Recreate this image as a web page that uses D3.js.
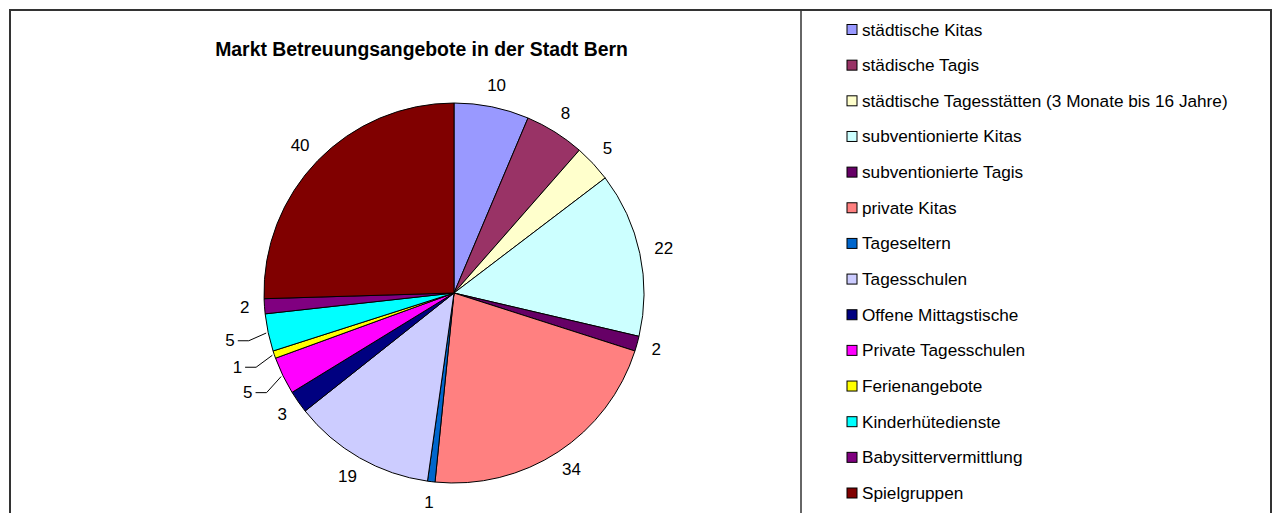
<!DOCTYPE html>
<html>
<head>
<meta charset="utf-8">
<script src="https://cdn.jsdelivr.net/npm/d3@7"></script>
<style>
  body { margin: 0; background: #fff; }
  text { font-family: "Liberation Sans", Arial, sans-serif; fill: #000; }
</style>
</head>
<body>
<svg id="chart" width="1275" height="513"></svg>
<script>
const categories = [
    "städtische Kitas", "städische Tagis", "städtische Tagesstätten (3 Monate bis 16 Jahre)",
    "subventionierte Kitas", "subventionierte Tagis", "private Kitas", "Tageseltern",
    "Tagesschulen", "Offene Mittagstische", "Private Tagesschulen", "Ferienangebote",
    "Kinderhütedienste", "Babysittervermittlung", "Spielgruppen"
];
const values = [10, 8, 5, 22, 2, 34, 1, 19, 3, 5, 1, 5, 2, 40];
const colors = ["#9999ff", "#993366", "#ffffcc", "#ccffff", "#660066", "#ff8080", "#0066cc",
                "#ccccff", "#000080", "#ff00ff", "#ffff00", "#00ffff", "#800080", "#800000"];
// labels that Excel pushed out and tied back with a leader line
const leader_labels = ["Private Tagesschulen", "Ferienangebote", "Kinderhütedienste"];

const CX = 454, CY = 293, R = 190;
const LABEL_SIZE = 17;

var svg = d3.select("#chart");

// frame and divider
svg.append("rect")
    .attr("x", 10).attr("y", 10)
    .attr("width", 1261).attr("height", 530)
    .attr("fill", "none")
    .attr("stroke", "#333")
    .attr("stroke-width", 2);
svg.append("line")
    .attr("x1", 801).attr("x2", 801)
    .attr("y1", 10).attr("y2", 540)
    .attr("stroke", "#333")
    .attr("stroke-width", 1.5);

svg.append("text")
    .attr("x", 421.5)
    .attr("y", 56)
    .attr("text-anchor", "middle")
    .attr("font-size", 19.4)
    .attr("font-weight", "bold")
    .text("Markt Betreuungsangebote in der Stadt Bern");

var data = categories.map((c, i) => ({name: c, value: values[i], color: colors[i]}));

var pie = d3.pie()
    .sort(null)
    .value(d => d.value)
    .startAngle(0)
    .endAngle(2 * Math.PI);
var arc = d3.arc().innerRadius(0).outerRadius(R);
var arcs = pie(data);

var g = svg.append("g").attr("transform", "translate(" + CX + "," + CY + ")");

g.selectAll("path.slice")
    .data(arcs)
    .enter().append("path")
    .attr("class", "slice")
    .attr("d", arc)
    .attr("fill", d => d.data.color)
    .attr("stroke", "#000")
    .attr("stroke-width", 1);

// data labels
arcs.forEach(function(d) {
    var a = (d.startAngle + d.endAngle) / 2;
    var s = Math.sin(a), c = -Math.cos(a);
    var label = g.append("text")
        .attr("font-size", LABEL_SIZE)
        .attr("text-anchor", "middle")
        .attr("dominant-baseline", "central")
        .text(d.data.value);
    var bb = label.node().getBBox();
    var w = bb.width, h = 13;
    if (leader_labels.indexOf(d.data.name) >= 0) {
        var lr = R + 39;
        var tx = s * lr, ty = c * lr;
        label.attr("x", tx).attr("y", ty);
        var x0 = tx + w / 2 + 3;
        g.append("path")
            .attr("d", d3.line()([[x0, ty], [x0 + 11, ty], [s * (R + 2), c * (R + 2)]]))
            .attr("fill", "none")
            .attr("stroke", "#000")
            .attr("stroke-width", 1);
    } else {
        var pr = R + 15;
        label.attr("x", s * pr + s * w / 2)
             .attr("y", c * pr + c * h / 2);
    }
});

// legend
var legend = svg.append("g");
var ly = d3.scalePoint()
    .domain(categories)
    .range([29.5, 493]);
var items = legend.selectAll("g.item")
    .data(data)
    .enter().append("g")
    .attr("class", "item")
    .attr("transform", d => "translate(847," + ly(d.name) + ")");
items.append("rect")
    .attr("x", 0).attr("y", -5)
    .attr("width", 10).attr("height", 10)
    .attr("fill", d => d.color)
    .attr("stroke", "#000")
    .attr("stroke-width", 1);
items.append("text")
    .attr("x", 15)
    .attr("y", 0)
    .attr("dominant-baseline", "central")
    .attr("font-size", 17.2)
    .text(d => d.name);
</script>
</body>
</html>
